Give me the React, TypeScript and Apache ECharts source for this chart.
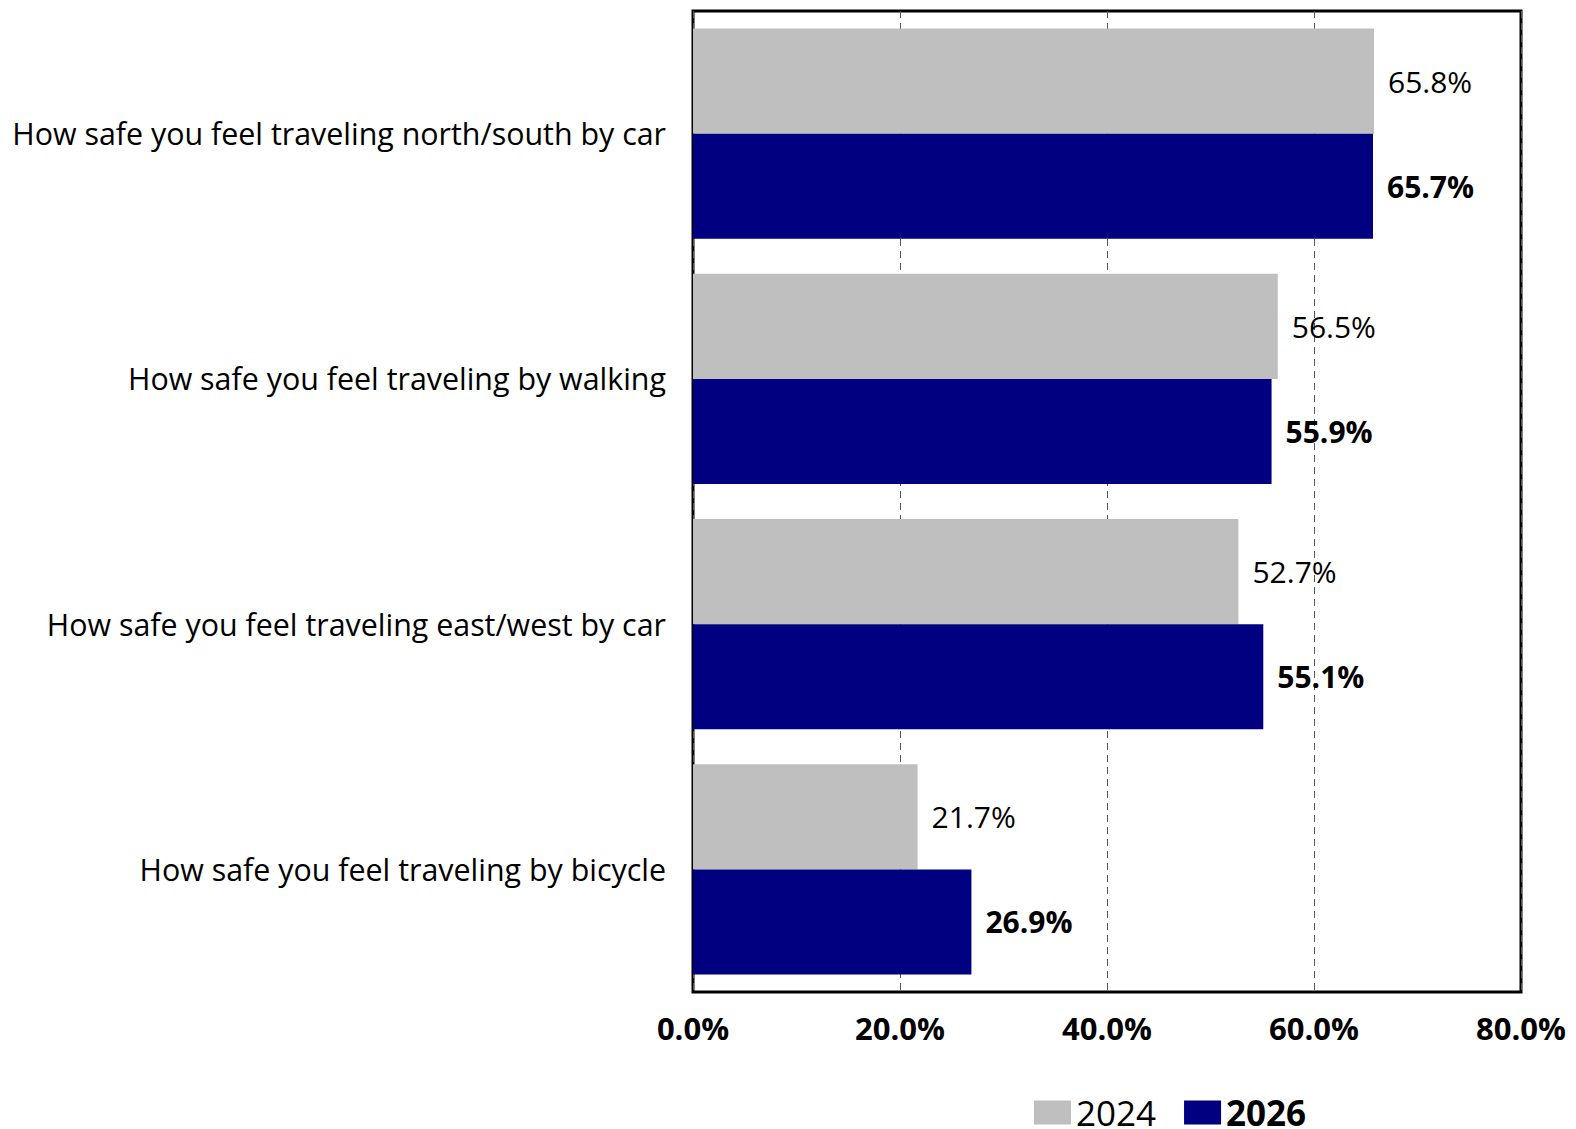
import React, { useEffect, useRef } from "react";
import * as echarts from "echarts";

const categories = [
  "How safe you feel traveling north/south by car",
  "How safe you feel traveling by walking",
  "How safe you feel traveling east/west by car",
  "How safe you feel traveling by bicycle",
];
const values2024 = [65.8, 56.5, 52.7, 21.7];
const values2026 = [65.7, 55.9, 55.1, 26.9];
const seriesNames = ["2024", "2026"];

const FONT = "'Open Sans', 'Noto Sans', sans-serif";

export default function App() {
  const ref = useRef<HTMLDivElement>(null);
  useEffect(() => {
    document.body.style.margin = "0";
    const chart = echarts.init(ref.current!, null, { renderer: "svg" });
    chart.setOption({
      animation: false,
      textStyle: { fontFamily: FONT },
      grid: {
        left: 693,
        right: 55,
        top: 11,
        bottom: 137,
        show: true,
        borderColor: "#000",
        borderWidth: 3,
        containLabel: false,
      },
      legend: {
        left: 1029,
        top: 1090,
        itemWidth: 37,
        itemHeight: 24,
        itemGap: 28,
        icon: "rect",
        data: seriesNames,
        formatter: (name: string) => (name === "2026" ? `{b|${name}}` : `{n|${name}}`),
        textStyle: {
          fontFamily: FONT,
          color: "#000",
          rich: {
            n: { fontSize: 35, lineHeight: 30, fontFamily: FONT, color: "#000" },
            b: { fontSize: 35, lineHeight: 30, fontFamily: FONT, fontWeight: "bold", color: "#000" },
          },
        },
      },
      xAxis: {
        type: "value",
        min: 0,
        max: 80,
        interval: 20,
        axisLine: { show: false },
        axisTick: { show: false },
        axisLabel: {
          formatter: (v: number) => v.toFixed(1) + "%",
          fontSize: 31,
          fontWeight: "bold",
          color: "#000",
          margin: 20,
          fontFamily: FONT,
        },
        splitLine: {
          show: true,
          lineStyle: { type: [7, 5], color: "#555", width: 1 },
        },
      },
      yAxis: {
        type: "category",
        data: categories,
        inverse: true,
        axisLine: { show: false },
        axisTick: { show: false },
        axisLabel: {
          fontSize: 30.4,
          color: "#000",
          margin: 27,
          fontFamily: FONT,
        },
      },
      series: [
        {
          name: "2024",
          type: "bar",
          data: values2024,
          barGap: "0%",
          barCategoryGap: "14.3%",
          itemStyle: { color: "#BFBFBF" },
          label: {
            show: true,
            position: "right",
            distance: 14,
            formatter: (p: any) => p.value.toFixed(1) + "%",
            fontSize: 30,
            color: "#000",
            fontFamily: FONT,
          },
        },
        {
          name: "2026",
          type: "bar",
          data: values2026,
          barGap: "0%",
          barCategoryGap: "14.3%",
          itemStyle: { color: "#000080" },
          label: {
            show: true,
            position: "right",
            distance: 14,
            formatter: (p: any) => p.value.toFixed(1) + "%",
            fontSize: 30,
            fontWeight: "bold",
            color: "#000",
            fontFamily: FONT,
          },
        },
      ],
    });
    return () => chart.dispose();
  }, []);
  return <div ref={ref} style={{ width: 1576, height: 1129 }} />;
}
